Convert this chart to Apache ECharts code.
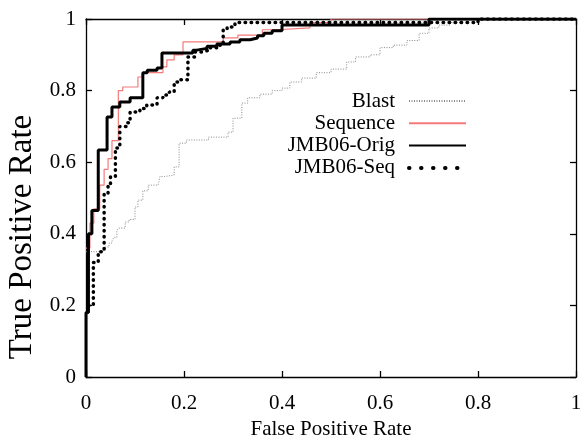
<!DOCTYPE html>
<html>
<head>
<meta charset="utf-8">
<script src="https://cdn.jsdelivr.net/npm/echarts@6/dist/echarts.min.js"></script>
<style>html,body{margin:0;padding:0;background:#fff}#c{width:585px;height:435px}</style>
</head>
<body>
<div id="c"></div>
<script>
const seriesNames = ['Blast', 'Sequence', 'JMB06-Orig', 'JMB06-Seq'];
const axisTicks = [0, 0.2, 0.4, 0.6, 0.8, 1];

const blast = [[0,0.35],[0.033,0.35],[0.033,0.355],[0.039,0.355],[0.039,0.363],[0.047,0.363],[0.047,0.374],[0.053,0.374],[0.053,0.38],[0.057,0.38],[0.057,0.39],[0.063,0.39],[0.063,0.41],[0.067,0.41],[0.067,0.416],[0.08,0.416],[0.08,0.433],[0.088,0.433],[0.088,0.44],[0.1,0.44],[0.1,0.475],[0.106,0.475],[0.106,0.494],[0.116,0.494],[0.116,0.52],[0.127,0.52],[0.127,0.536],[0.147,0.536],[0.147,0.54],[0.151,0.54],[0.151,0.56],[0.16,0.56],[0.16,0.564],[0.18,0.564],[0.18,0.587],[0.19,0.587],[0.19,0.653],[0.205,0.653],[0.205,0.662],[0.25,0.662],[0.25,0.67],[0.29,0.67],[0.29,0.684],[0.30,0.684],[0.30,0.723],[0.318,0.723],[0.318,0.765],[0.33,0.765],[0.33,0.78],[0.355,0.78],[0.355,0.79],[0.38,0.79],[0.38,0.80],[0.4,0.80],[0.4,0.807],[0.416,0.807],[0.416,0.824],[0.44,0.824],[0.44,0.835],[0.47,0.835],[0.47,0.85],[0.5,0.85],[0.5,0.86],[0.532,0.86],[0.532,0.88],[0.55,0.88],[0.55,0.894],[0.58,0.894],[0.58,0.90],[0.6,0.90],[0.6,0.92],[0.627,0.92],[0.627,0.927],[0.655,0.927],[0.655,0.94],[0.68,0.94],[0.68,0.96],[0.70,0.96],[0.70,0.975],[0.72,0.975],[0.72,0.983],[0.743,0.983],[0.743,0.99],[0.763,0.99],[0.763,1.0],[1,1]];

const sequence = [[0,0.36],[0.008,0.36],[0.008,0.43],[0.016,0.43],[0.016,0.47],[0.028,0.47],[0.028,0.536],[0.037,0.536],[0.037,0.58],[0.045,0.58],[0.045,0.61],[0.053,0.61],[0.053,0.66],[0.066,0.66],[0.066,0.80],[0.075,0.80],[0.075,0.81],[0.106,0.81],[0.106,0.838],[0.116,0.838],[0.116,0.85],[0.157,0.85],[0.157,0.866],[0.165,0.866],[0.165,0.886],[0.18,0.886],[0.18,0.9],[0.198,0.9],[0.198,0.936],[0.28,0.936],[0.28,0.947],[0.31,0.947],[0.31,0.955],[0.36,0.955],[0.36,0.97],[0.39,0.97],[0.39,0.975],[0.457,0.975],[0.457,0.99],[0.50,0.99],[0.50,1.0],[1,1]];

const jmbOrig = [[0,0],[0,0.18],[0.005,0.18],[0.005,0.40],[0.012,0.40],[0.012,0.465],[0.025,0.465],[0.025,0.634],[0.043,0.634],[0.043,0.726],[0.053,0.726],[0.053,0.754],[0.069,0.754],[0.069,0.768],[0.09,0.768],[0.09,0.78],[0.116,0.78],[0.116,0.85],[0.125,0.85],[0.125,0.857],[0.145,0.857],[0.145,0.863],[0.155,0.863],[0.155,0.905],[0.218,0.905],[0.218,0.913],[0.226,0.913],[0.226,0.918],[0.247,0.918],[0.247,0.924],[0.267,0.924],[0.267,0.93],[0.294,0.93],[0.294,0.936],[0.314,0.936],[0.314,0.942],[0.335,0.942],[0.335,0.947],[0.35,0.947],[0.35,0.953],[0.363,0.953],[0.363,0.96],[0.38,0.96],[0.38,0.967],[0.4,0.967],[0.4,0.983],[0.70,0.983],[0.70,1.0],[1,1]];

const jmbSeq = [[0.005,0.2],[0.015,0.2],[0.015,0.32],[0.025,0.32],[0.025,0.35],[0.037,0.35],[0.037,0.51],[0.045,0.51],[0.045,0.536],[0.05,0.536],[0.05,0.56],[0.06,0.56],[0.06,0.64],[0.069,0.64],[0.069,0.70],[0.083,0.70],[0.083,0.71],[0.09,0.71],[0.09,0.74],[0.11,0.74],[0.11,0.75],[0.124,0.75],[0.124,0.76],[0.145,0.76],[0.145,0.78],[0.157,0.78],[0.157,0.788],[0.17,0.788],[0.17,0.796],[0.18,0.796],[0.18,0.824],[0.19,0.824],[0.19,0.83],[0.208,0.83],[0.208,0.894],[0.222,0.894],[0.222,0.908],[0.24,0.908],[0.24,0.913],[0.25,0.913],[0.25,0.92],[0.27,0.92],[0.27,0.927],[0.28,0.927],[0.28,0.97],[0.288,0.97],[0.288,0.978],[0.304,0.978],[0.304,0.99],[0.80,0.99],[0.80,1.0],[1,1]];

const FONT = 'Liberation Serif, Times New Roman, serif';
const chart = echarts.init(document.getElementById('c'), null, {renderer: 'canvas'});

function axisBase(pos, showLabel, extra) {
  return Object.assign({
    type: 'value', min: 0, max: 1, interval: 0.2, position: pos,
    axisLine: {show: true, onZero: false, lineStyle: {color: '#000', width: 1.3}},
    axisTick: {show: true, inside: true, length: 6, lineStyle: {color: '#000', width: 1.3}},
    axisLabel: {show: showLabel},
    splitLine: {show: false}
  }, extra || {});
}
const labelFmt = v => String(axisTicks.find(t => Math.abs(t - v) < 1e-9) ?? v);

chart.setOption({
  animation: false,
  backgroundColor: '#fff',
  grid: {left: 86, right: 9, top: 19, bottom: 58, containLabel: false, outerBoundsMode: 'none'},
  xAxis: [
    axisBase('bottom', true, {name: 'False Positive Rate', nameLocation: 'middle', nameGap: 30,
      nameTextStyle: {color: '#000', fontFamily: FONT, fontSize: 21},
      axisLabel: {show: true, color: '#000', fontFamily: FONT, fontSize: 21, margin: 16, formatter: labelFmt}}),
    axisBase('top', false)
  ],
  yAxis: [
    axisBase('left', true, {name: 'True Positive Rate', nameLocation: 'middle', nameGap: 35,
      nameTextStyle: {color: '#000', fontFamily: FONT, fontSize: 33, padding: [0, 78, 0, 0]},
      axisLabel: {show: true, color: '#000', fontFamily: FONT, fontSize: 21, margin: 10, formatter: labelFmt}}),
    axisBase('right', false)
  ],
  legend: {
    orient: 'vertical', right: 117, top: 90, align: 'right',
    itemWidth: 57, itemHeight: 22, itemGap: 0.3, padding: 0,
    itemStyle: {opacity: 0},
    textStyle: {color: '#000', fontFamily: FONT, fontSize: 21, lineHeight: 22, padding: [0, 9, 0, 0]},
    data: [
      {name: seriesNames[0]},
      {name: seriesNames[1]},
      {name: seriesNames[2]},
      {name: seriesNames[3], lineStyle: {type: [0.5, 11.5], cap: 'round', width: 4}}
    ]
  },
  series: [
    {name: seriesNames[0], type: 'line', data: blast, symbol: 'none', z: 2,
      lineStyle: {color: '#8a8a8a', width: 1, type: [1, 1.5]}, itemStyle: {color: '#8a8a8a'}},
    {name: seriesNames[1], type: 'line', data: sequence, symbol: 'none', z: 3,
      lineStyle: {color: '#f47a7a', width: 1.2}, itemStyle: {color: '#f47a7a'}},
    {name: seriesNames[2], type: 'line', data: jmbOrig, symbol: 'none', z: 4,
      lineStyle: {color: '#000', width: 3}, itemStyle: {color: '#000'}},
    {name: seriesNames[3], type: 'line', data: jmbSeq, symbol: 'none', z: 5,
      lineStyle: {color: '#000', width: 3.5, type: [0.5, 5.5], cap: 'round'}, itemStyle: {color: '#000'}}
  ]
});
</script>
</body>
</html>
